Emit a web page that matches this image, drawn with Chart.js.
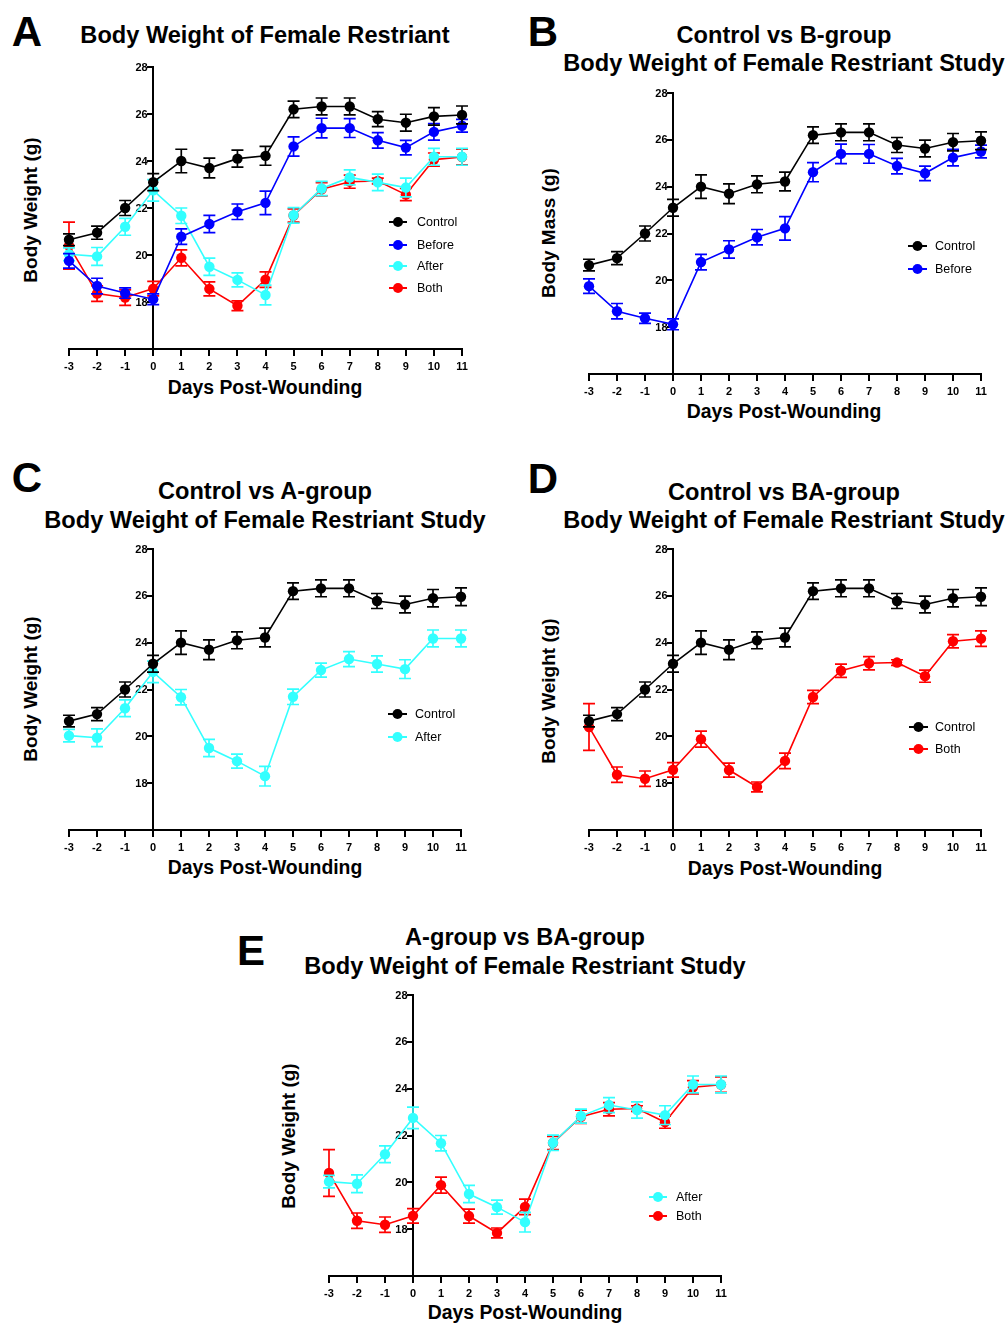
<!DOCTYPE html>
<html><head><meta charset="utf-8">
<script src="https://cdn.jsdelivr.net/npm/chart.js@4.4.1/dist/chart.umd.min.js"></script>
<style>
html,body{margin:0;padding:0;background:#fff}
body{width:1008px;height:1325px;position:relative;overflow:hidden;font-family:"Liberation Sans",Arial,Helvetica,sans-serif}
.t{position:absolute;color:#000;white-space:nowrap;line-height:1}
.wrap{position:absolute}
</style>
</head><body>
<script>
// ---------------- data ----------------
const days = [-3,-2,-1,0,1,2,3,4,5,6,7,8,9,10,11];
const controlMean = [20.65,20.95,22.0,23.1,24.0,23.7,24.1,24.22,26.2,26.32,26.32,25.78,25.63,25.9,25.96];
const controlSem  = [0.25,0.28,0.32,0.36,0.5,0.42,0.36,0.4,0.35,0.36,0.36,0.32,0.36,0.37,0.38];
const beforeMean  = [19.75,18.68,18.38,18.12,20.78,21.32,21.84,22.22,24.62,25.4,25.4,24.88,24.57,25.24,25.5];
const beforeSem   = [0.31,0.33,0.22,0.23,0.33,0.37,0.33,0.5,0.41,0.42,0.4,0.33,0.31,0.35,0.27];
const afterMean   = [20.03,19.94,21.2,22.75,21.67,19.5,18.94,18.3,21.69,22.83,23.3,23.09,22.87,24.18,24.18];
const afterSem    = [0.27,0.38,0.36,0.46,0.33,0.37,0.3,0.42,0.33,0.3,0.32,0.35,0.4,0.36,0.36];
const bothMean    = [20.4,18.36,18.19,18.57,19.88,18.56,17.84,18.95,21.68,22.8,23.12,23.15,22.57,24.06,24.17];
const bothSem     = [1.0,0.33,0.33,0.31,0.34,0.3,0.21,0.33,0.28,0.28,0.28,0.12,0.26,0.28,0.33];
const xTickValues = days;
const yTickValues = [18,20,22,24,26,28];
const seriesNames = ['Control','Before','After','Both'];
const seriesColors = ['#000000','#0000ff','#33ffff','#ff0000'];
const seriesMeans = [controlMean, beforeMean, afterMean, bothMean];
const seriesSems = [controlSem, beforeSem, afterSem, bothSem];
const xTitle = 'Days Post-Wounding';
const subTitle = 'Body Weight of Female Restriant Study';

// ---------------- layout ----------------
const FONT = '"Liberation Sans", Arial, Helvetica, sans-serif';
const panels = [
  {letter:'A', letterPos:[27,32], titles:['Body Weight of Female Restriant'], titleX:265, titleY:[36],
   yTitle:'Body Weight (g)', yTitlePos:[30,210], xTitlePos:[265,388],
   plot:{l:69,r:462,t:67,b:349}, series:[0,1,2,3], legend:{x0:389,x1:407,tx:417,ys:[222,245,266,288]}},
  {letter:'B', letterPos:[543,32], titles:['Control vs B-group', subTitle], titleX:784, titleY:[36,64],
   yTitle:'Body Mass (g)', yTitlePos:[548,233], xTitlePos:[784,412],
   plot:{l:589,r:981,t:93,b:374}, series:[0,1], legend:{x0:908,x1:927,tx:935,ys:[246,269]}},
  {letter:'C', letterPos:[27,478], titles:['Control vs A-group', subTitle], titleX:265, titleY:[492,521],
   yTitle:'Body Weight (g)', yTitlePos:[30,689], xTitlePos:[265,868],
   plot:{l:69,r:461,t:549,b:830}, series:[0,2], legend:{x0:388,x1:407,tx:415,ys:[714,737]}},
  {letter:'D', letterPos:[543,479], titles:['Control vs BA-group', subTitle], titleX:784, titleY:[493,521],
   yTitle:'Body Weight (g)', yTitlePos:[548,691], xTitlePos:[785,869],
   plot:{l:589,r:981,t:549,b:830}, series:[0,3], legend:{x0:909,x1:928,tx:935,ys:[727,749]}},
  {letter:'E', letterPos:[251,951], titles:['A-group vs BA-group', subTitle], titleX:525, titleY:[938,967],
   yTitle:'Body Weight (g)', yTitlePos:[288,1136], xTitlePos:[525,1313],
   plot:{l:329,r:721,t:995,b:1276}, series:[2,3], legend:{x0:649,x1:667,tx:676,ys:[1197,1216]}}
];

function addText(txt, cx, cy, size, weight, rot){
  const d = document.createElement('div');
  d.className = 't';
  d.textContent = txt;
  d.style.left = cx + 'px';
  d.style.top = cy + 'px';
  d.style.fontSize = size + 'px';
  d.style.fontWeight = weight;
  d.style.transform = 'translate(-50%,-50%)' + (rot ? ' rotate(-90deg)' : '');
  document.body.appendChild(d);
}

const errorBarPlugin = {
  id: 'errorBars',
  beforeDatasetDraw(chart, args) {
    const ds = chart.data.datasets[args.index];
    const sems = ds.errorBars;
    if (!sems) return;
    const xs = chart.scales.x, ys = chart.scales.y, ctx = chart.ctx;
    ctx.save();
    ctx.strokeStyle = ds.borderColor;
    ctx.lineWidth = 1.7;
    ds.data.forEach((p, i) => {
      const x = xs.getPixelForValue(p.x);
      const y1 = ys.getPixelForValue(p.y + sems[i]);
      const y2 = ys.getPixelForValue(p.y - sems[i]);
      ctx.beginPath();
      ctx.moveTo(x, y1); ctx.lineTo(x, y2);
      ctx.moveTo(x - 6, y1); ctx.lineTo(x + 6, y1);
      ctx.moveTo(x - 6, y2); ctx.lineTo(x + 6, y2);
      ctx.stroke();
    });
    ctx.restore();
  }
};

// y tick labels, right-aligned against the centred y axis
const yLabelPlugin = {
  id: 'yLabels',
  beforeDatasetsDraw(chart) {
    const xs = chart.scales.x, ys = chart.scales.y, ctx = chart.ctx;
    const ax = xs.getPixelForValue(0);
    ctx.save();
    ctx.fillStyle = '#000';
    ctx.font = 'bold 11px ' + FONT;
    ctx.textAlign = 'right';
    ctx.textBaseline = 'middle';
    ys.ticks.forEach(t => {
      ctx.fillText(String(t.value), ax - 5.5, ys.getPixelForValue(t.value) + 0.5);
    });
    ctx.restore();
  }
};

const legendPlugin = {
  id: 'prismLegend',
  afterDatasetsDraw(chart, args, opts) {
    if (!opts || !opts.lg) return;
    const ca = chart.chartArea, p = opts.plot, lg = opts.lg, ctx = chart.ctx;
    ctx.save();
    chart.data.datasets.forEach((ds, i) => {
      const y = ca.top + (lg.ys[i] - p.t);
      const x0 = ca.left + (lg.x0 - p.l), x1 = ca.left + (lg.x1 - p.l);
      ctx.strokeStyle = ds.borderColor; ctx.lineWidth = 2;
      ctx.beginPath(); ctx.moveTo(x0, y); ctx.lineTo(x1, y); ctx.stroke();
      ctx.fillStyle = ds.borderColor;
      ctx.beginPath(); ctx.arc((x0 + x1) / 2, y, 5, 0, Math.PI * 2); ctx.fill();
      ctx.fillStyle = '#000';
      ctx.font = '12.5px ' + FONT;
      ctx.textBaseline = 'middle';
      ctx.textAlign = 'left';
      ctx.fillText(ds.label, ca.left + (lg.tx - p.l), y + 0.5);
    });
    ctx.restore();
  }
};

function buildConfig(p) {
  const datasets = p.series.map(si => ({
    label: seriesNames[si],
    data: days.map((d, i) => ({x: d, y: seriesMeans[si][i]})),
    errorBars: seriesSems[si],
    borderColor: seriesColors[si],
    backgroundColor: seriesColors[si],
    pointBackgroundColor: seriesColors[si],
    pointBorderColor: seriesColors[si],
    borderWidth: 1.6,
    pointRadius: 5.2,
    pointBorderWidth: 0,
    tension: 0,
    clip: false
  }));
  return {
    type: 'line',
    data: {datasets},
    options: {
      responsive: false,
      maintainAspectRatio: false,
      animation: false,
      devicePixelRatio: 1,
      events: [],
      layout: {padding: {left: 30, right: 30, top: 16, bottom: 4}},
      plugins: {
        legend: {display: false},
        tooltip: {enabled: false},
        title: {display: false},
        prismLegend: {lg: p.legend, plot: p.plot}
      },
      scales: {
        x: {
          type: 'linear', position: 'bottom', min: -3, max: 11,
          afterBuildTicks: s => { s.ticks = xTickValues.map(v => ({value: v})); },
          afterFit: s => { s.height = 30; },
          ticks: {color: '#000', font: {family: FONT, size: 11, weight: 'bold'}, padding: 4, maxRotation: 0, autoSkip: false},
          grid: {display: true, drawOnChartArea: false, drawTicks: true, tickLength: 7, lineWidth: 2, color: '#000', tickColor: '#000'},
          border: {display: true, color: '#000', width: 2}
        },
        y: {
          type: 'linear', position: {x: 0}, min: 16, max: 28,
          afterBuildTicks: s => { s.ticks = yTickValues.map(v => ({value: v})); },
          ticks: {display: false},
          grid: {display: true, drawOnChartArea: false, drawTicks: true, tickLength: 5, lineWidth: 2, color: '#000', tickColor: '#000'},
          border: {display: true, color: '#000', width: 2}
        }
      }
    },
    plugins: [yLabelPlugin, errorBarPlugin, legendPlugin]
  };
}

function makePanel(p) {
  addText(p.letter, p.letterPos[0], p.letterPos[1], 42, 'bold');
  p.titles.forEach((t, i) => addText(t, p.titleX, p.titleY[i], 23.6, 'bold'));
  addText(p.yTitle, p.yTitlePos[0], p.yTitlePos[1], 19, 'bold', true);
  addText(xTitle, p.xTitlePos[0], p.xTitlePos[1], 19.4, 'bold');

  const pw = p.plot.r - p.plot.l, ph = p.plot.b - p.plot.t;
  let W = 30 + pw + 30, H = 16 + ph + 30 + 4;
  const wrap = document.createElement('div');
  wrap.className = 'wrap';
  document.body.appendChild(wrap);
  function create(w, h) {
    wrap.innerHTML = '';
    const cv = document.createElement('canvas');
    cv.width = w; cv.height = h;
    cv.style.width = w + 'px'; cv.style.height = h + 'px';
    wrap.appendChild(cv);
    return new Chart(cv, buildConfig(p));
  }
  let chart = create(W, H);
  let ca = chart.chartArea;
  const dw = pw - (ca.right - ca.left), dh = ph - (ca.bottom - ca.top);
  if (Math.abs(dw) > 0.25 || Math.abs(dh) > 0.25) {
    chart.destroy();
    chart = create(Math.round(W + dw), Math.round(H + dh));
    ca = chart.chartArea;
  }
  wrap.style.left = (p.plot.l - ca.left) + 'px';
  wrap.style.top = (p.plot.t - ca.top) + 'px';
}

panels.forEach(makePanel);
</script>
</body></html>
